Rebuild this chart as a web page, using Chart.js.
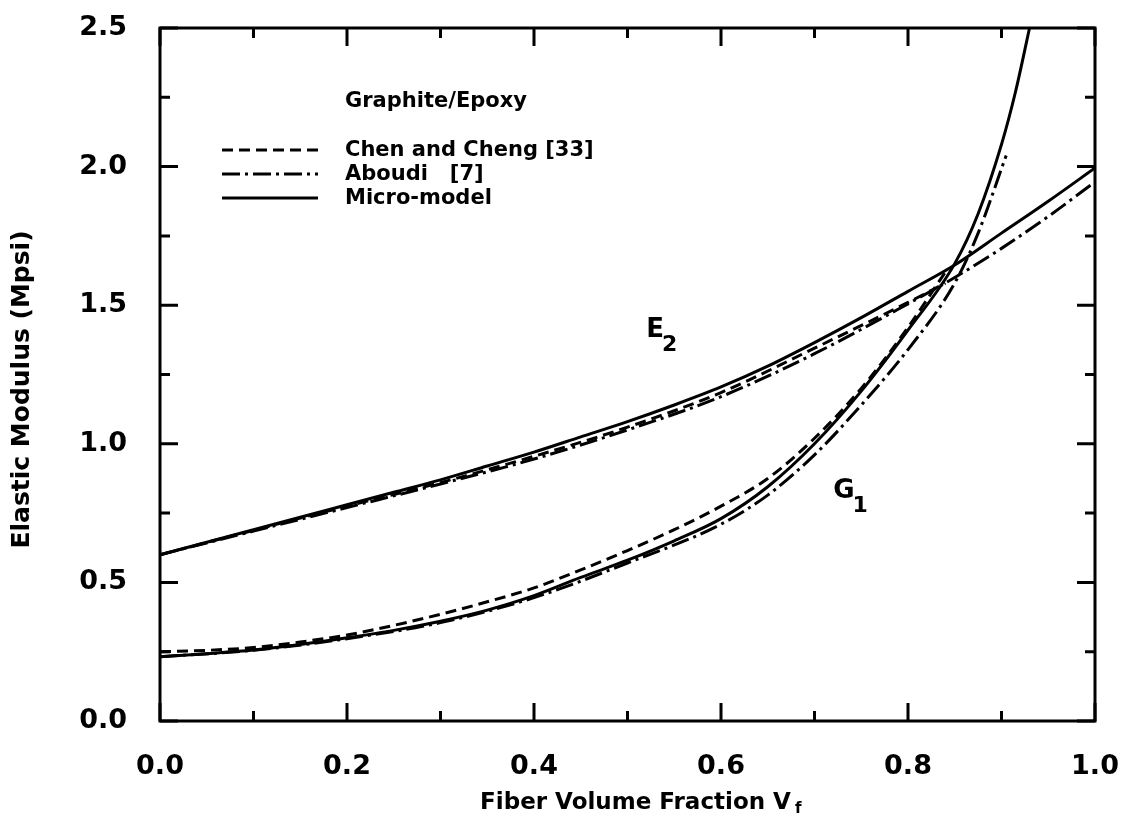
<!DOCTYPE html>
<html>
<head>
<meta charset="utf-8">
<script src="https://cdn.jsdelivr.net/npm/chart.js@4.4.1/dist/chart.umd.min.js"></script>
<style>
html, body { margin: 0; padding: 0; background: #fff; }
</style>
</head>
<body>
<canvas id="modChart" width="1124" height="826"></canvas>
<script>
// fiber volume fraction grids and moduli (Mpsi)
const vf = [0, 0.05, 0.1, 0.15, 0.2, 0.25, 0.3, 0.35, 0.4, 0.45, 0.5, 0.55, 0.6, 0.65, 0.7, 0.75, 0.8, 0.85, 0.9, 0.95, 1.0];
const e2Micro = [0.60, 0.645, 0.69, 0.735, 0.78, 0.825, 0.87, 0.92, 0.97, 1.025, 1.08, 1.14, 1.205, 1.28, 1.365, 1.455, 1.55, 1.645, 1.76, 1.875, 1.995];
const vfAboudiE2 = [0, 0.1, 0.2, 0.3, 0.4, 0.5, 0.6, 0.7, 0.8, 0.85, 0.9, 0.95, 1.0];
const e2Aboudi = [0.60, 0.685, 0.77, 0.855, 0.945, 1.05, 1.17, 1.325, 1.505, 1.60, 1.705, 1.82, 1.945];
const vfChenE2 = [0, 0.1, 0.2, 0.3, 0.4, 0.5, 0.6, 0.7, 0.8, 0.84];
const e2Chen = [0.60, 0.688, 0.775, 0.86, 0.955, 1.06, 1.185, 1.345, 1.51, 1.58];

const vfMicroG1 = [0, 0.05, 0.1, 0.15, 0.2, 0.25, 0.3, 0.35, 0.4, 0.45, 0.5, 0.55, 0.6, 0.65, 0.7, 0.75, 0.8, 0.85, 0.875, 0.9, 0.915, 0.93];
const g1Micro = [0.232, 0.243, 0.256, 0.276, 0.30, 0.327, 0.36, 0.40, 0.452, 0.518, 0.58, 0.65, 0.73, 0.845, 1.0, 1.19, 1.41, 1.65, 1.83, 2.08, 2.27, 2.5];
const vfAboudiG1 = [0, 0.1, 0.2, 0.3, 0.4, 0.5, 0.6, 0.65, 0.7, 0.75, 0.8, 0.85, 0.875, 0.905];
const g1Aboudi = [0.232, 0.255, 0.297, 0.355, 0.445, 0.57, 0.71, 0.815, 0.96, 1.14, 1.34, 1.58, 1.76, 2.04];
const vfChenG1 = [0, 0.05, 0.1, 0.15, 0.2, 0.25, 0.3, 0.35, 0.4, 0.45, 0.5, 0.55, 0.6, 0.65, 0.7, 0.75, 0.8, 0.84];
const g1Chen = [0.25, 0.255, 0.265, 0.285, 0.31, 0.345, 0.385, 0.43, 0.48, 0.545, 0.615, 0.69, 0.775, 0.875, 1.02, 1.2, 1.42, 1.62];

const models = ['Chen and Cheng [33]', 'Aboudi   [7]', 'Micro-model'];
const dashes = [[11, 6], [18, 5, 3, 5], []];
const material = 'Graphite/Epoxy';
const curveLabels = [
    { main: 'E', sub: '2', x: 0.52, y: 1.41 },
    { main: 'G', sub: '1', x: 0.72, y: 0.83 }
];

const FONT = '"DejaVu Sans", sans-serif';

const pts = (xs, ys) => xs.map((x, i) => ({ x: x, y: ys[i] }));

function line(data, model) {
    return {
        label: models[model],
        data: data,
        borderColor: '#000',
        borderWidth: 3,
        borderDash: dashes[model],
        pointRadius: 0,
        cubicInterpolationMode: 'monotone',
        fill: false
    };
}

// frame, inward ticks, legend and annotations
const decorPlugin = {
    id: 'decor',
    afterDraw(chart) {
        const { ctx, chartArea: a, scales: { x, y } } = chart;
        ctx.save();
        ctx.strokeStyle = '#000';
        ctx.fillStyle = '#000';
        ctx.lineWidth = 3;
        ctx.setLineDash([]);
        ctx.strokeRect(a.left, a.top, a.right - a.left, a.bottom - a.top);

        ctx.beginPath();
        x.ticks.forEach(t => {
            const px = x.getPixelForValue(t.value);
            const len = Math.round(t.value * 10) % 2 === 0 ? 18 : 10;
            ctx.moveTo(px, a.bottom); ctx.lineTo(px, a.bottom - len);
            ctx.moveTo(px, a.top); ctx.lineTo(px, a.top + len);
        });
        y.ticks.forEach(t => {
            const py = y.getPixelForValue(t.value);
            const len = Math.round(t.value * 4) % 2 === 0 ? 18 : 10;
            ctx.moveTo(a.left, py); ctx.lineTo(a.left + len, py);
            ctx.moveTo(a.right, py); ctx.lineTo(a.right - len, py);
        });
        ctx.stroke();

        // legend
        ctx.font = 'bold 21px ' + FONT;
        ctx.textBaseline = 'middle';
        ctx.textAlign = 'left';
        const lx = a.left + 62, tx = a.left + 185;
        ctx.fillText(material, tx, a.top + 74);
        models.forEach((m, i) => {
            const ry = a.top + 122 + i * 24;
            ctx.setLineDash(dashes[i]);
            ctx.beginPath();
            ctx.moveTo(lx, ry); ctx.lineTo(lx + 96, ry);
            ctx.stroke();
            ctx.fillText(m, tx, ry + 1);
        });
        ctx.setLineDash([]);

        // curve labels with subscripts
        curveLabels.forEach(c => {
            const px = x.getPixelForValue(c.x), py = y.getPixelForValue(c.y);
            ctx.font = 'bold 26px ' + FONT;
            ctx.fillText(c.main, px, py);
            const w = ctx.measureText(c.main).width;
            ctx.font = 'bold 22px ' + FONT;
            ctx.fillText(c.sub, px + w - 2, py + 15);
        });

        // axis titles
        ctx.font = 'bold 23px ' + FONT;
        const xt = 'Fiber Volume Fraction V';
        const xw = ctx.measureText(xt).width;
        const xc = (a.left + a.right) / 2 + 12;
        ctx.fillText(xt, xc - xw / 2 - 4, 803);
        ctx.font = 'bold 15px ' + FONT;
        ctx.fillText('f', xc + xw / 2, 809);

        ctx.save();
        ctx.translate(22, (a.top + a.bottom) / 2 + 15);
        ctx.rotate(-Math.PI / 2);
        ctx.textAlign = 'center';
        ctx.font = 'bold 25px ' + FONT;
        ctx.fillText('Elastic Modulus (Mpsi)', 0, 0);
        ctx.restore();

        ctx.restore();
    }
};

const tickFont = { family: FONT, weight: 'bold', size: 27 };

new Chart(document.getElementById('modChart'), {
    type: 'line',
    data: {
        datasets: [
            line(pts(vfChenE2, e2Chen), 0),
            line(pts(vfAboudiE2, e2Aboudi), 1),
            line(pts(vf, e2Micro), 2),
            line(pts(vfChenG1, g1Chen), 0),
            line(pts(vfAboudiG1, g1Aboudi), 1),
            line(pts(vfMicroG1, g1Micro), 2)
        ]
    },
    options: {
        responsive: false,
        animation: false,
        layout: { padding: { top: 28, right: 29, left: 0, bottom: 0 } },
        plugins: {
            legend: { display: false },
            tooltip: { enabled: false }
        },
        scales: {
            x: {
                type: 'linear',
                min: 0,
                max: 1,
                // tick marks are drawn inward by the plugin; tickLength only spaces the labels
                grid: { display: false, drawTicks: true, tickLength: 30 },
                border: { display: false },
                ticks: {
                    stepSize: 0.1,
                    autoSkip: false,
                    maxRotation: 0,
                    padding: 0,
                    color: '#000',
                    font: tickFont,
                    callback: v => Math.round(v * 10) % 2 === 0 ? v.toFixed(1) : ''
                },
                afterFit: s => { s.height = 105; }
            },
            y: {
                min: 0,
                max: 2.5,
                grid: { display: false, drawTicks: true, tickLength: 33 },
                border: { display: false },
                ticks: {
                    stepSize: 0.25,
                    autoSkip: false,
                    padding: 0,
                    color: '#000',
                    font: tickFont,
                    callback: v => Math.round(v * 4) % 2 === 0 ? v.toFixed(1) : ''
                },
                afterFit: s => { s.width = 160; }
            }
        }
    },
    plugins: [decorPlugin]
});
</script>
</body>
</html>
